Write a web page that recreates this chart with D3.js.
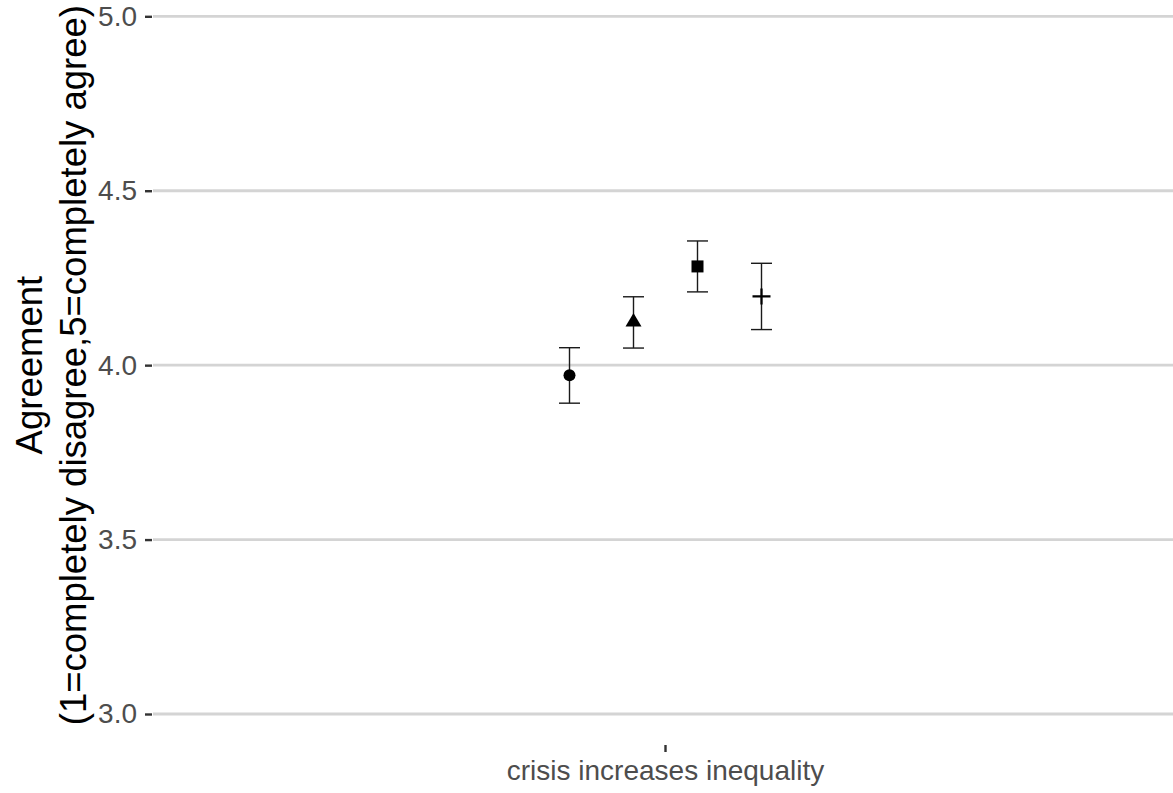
<!DOCTYPE html>
<html>
<head>
<meta charset="utf-8">
<script src="https://cdn.jsdelivr.net/npm/d3@7"></script>
<style>
  html, body { margin: 0; padding: 0; background: #fff; }
  svg { display: block; font-family: "Liberation Sans", Arial, sans-serif; }
</style>
</head>
<body>
<svg id="chart" width="1173" height="793"></svg>
<script>
// Survey item and the four groups plotted side by side
const categories = ["crisis increases inequality"];
const groups = ["g1", "g2", "g3", "g4"];
const shapes = ["circle", "triangle", "square", "plus"];
// Mean agreement with lower/upper confidence bounds per group
const means = [3.971, 4.125, 4.283, 4.197];
const lower = [3.891, 4.049, 4.210, 4.102];
const upper = [4.050, 4.196, 4.356, 4.292];
const yTicks = [3.0, 3.5, 4.0, 4.5, 5.0];
const yTitle = ["Agreement", "(1=completely disagree,5=completely agree)"];

const svg = d3.select("#chart");
const W = 1173, H = 793;
const panel = { left: 153, right: 1178, top: 0, bottom: 731 };

const x = d3.scaleBand().domain(categories).range([panel.left, panel.right]);
const dodge = d3.scaleBand().domain(groups).range([-128, 128]);
const y = d3.scaleLinear().domain([3, 5]).range([714, 16.3]);

// Horizontal gridlines
svg.append("g")
  .selectAll("line")
  .data(yTicks)
  .join("line")
  .attr("x1", panel.left).attr("x2", W)
  .attr("y1", d => y(d)).attr("y2", d => y(d))
  .attr("stroke", "#d4d4d4").attr("stroke-width", 2.8);

// Y axis: ticks and labels
const yAxis = d3.axisLeft(y).tickValues(yTicks).tickFormat(d3.format(".1f"))
  .tickSize(7).tickPadding(8);
const gy = svg.append("g").attr("transform", `translate(${panel.left - 1},0)`).call(yAxis);
gy.select(".domain").remove();
gy.selectAll(".tick line").attr("stroke", "#333").attr("stroke-width", 2.4);
gy.selectAll(".tick text").attr("fill", "#4d4d4d").attr("font-size", 28)
  .attr("font-family", "Liberation Sans, Arial, sans-serif");

// X axis: single category tick
const xAxis = d3.axisBottom(x).tickSize(7).tickPadding(8);
const gx = svg.append("g").attr("transform", "translate(0,745)").call(xAxis);
gx.select(".domain").remove();
gx.selectAll(".tick line").attr("stroke", "#333").attr("stroke-width", 2.4);
gx.selectAll(".tick text").attr("fill", "#4d4d4d").attr("font-size", 28)
  .attr("font-family", "Liberation Sans, Arial, sans-serif");

// Y axis title, two lines
const yc = (y(3) + y(5)) / 2;
svg.append("text")
  .attr("transform", `translate(42,${yc}) rotate(-90)`)
  .attr("text-anchor", "middle")
  .attr("font-size", 36.5)
  .attr("fill", "#000")
  .selectAll("tspan")
  .data(yTitle)
  .join("tspan")
  .attr("x", 0)
  .attr("dy", (d, i) => i === 0 ? 0 : 44)
  .text(d => d);

// Error bars and points
const data = groups.map((g, i) => ({
  cat: categories[0], g, shape: shapes[i], mean: means[i], lo: lower[i], hi: upper[i]
}));
const cx = d => x(d.cat) + x.bandwidth() / 2 + dodge(d.g) + dodge.bandwidth() / 2;
const capHalf = 10.5;
const barColor = "#1a1a1a", barWidth = 1.4;

const marks = svg.append("g").selectAll("g").data(data).join("g");
marks.append("line")
  .attr("x1", cx).attr("x2", cx)
  .attr("y1", d => y(d.lo)).attr("y2", d => y(d.hi))
  .attr("stroke", barColor).attr("stroke-width", barWidth);
marks.append("line")
  .attr("x1", d => cx(d) - capHalf).attr("x2", d => cx(d) + capHalf)
  .attr("y1", d => y(d.lo)).attr("y2", d => y(d.lo))
  .attr("stroke", barColor).attr("stroke-width", barWidth);
marks.append("line")
  .attr("x1", d => cx(d) - capHalf).attr("x2", d => cx(d) + capHalf)
  .attr("y1", d => y(d.hi)).attr("y2", d => y(d.hi))
  .attr("stroke", barColor).attr("stroke-width", barWidth);

marks.each(function (d) {
  const g = d3.select(this);
  const px = cx(d), py = y(d.mean);
  if (d.shape === "circle") {
    g.append("circle").attr("cx", px).attr("cy", py).attr("r", 6).attr("fill", "#000");
  } else if (d.shape === "square") {
    g.append("rect").attr("x", px - 6).attr("y", py - 6).attr("width", 12).attr("height", 12).attr("fill", "#000");
  } else if (d.shape === "triangle") {
    g.append("path")
      .attr("d", `M${px},${py - 8.5}L${px + 8},${py + 5}L${px - 8},${py + 5}Z`)
      .attr("fill", "#000");
  } else {
    g.append("path")
      .attr("d", `M${px - 9},${py}H${px + 9}M${px},${py - 8}V${py + 8}`)
      .attr("stroke", "#000").attr("stroke-width", 2.2).attr("fill", "none");
  }
});
</script>
</body>
</html>
